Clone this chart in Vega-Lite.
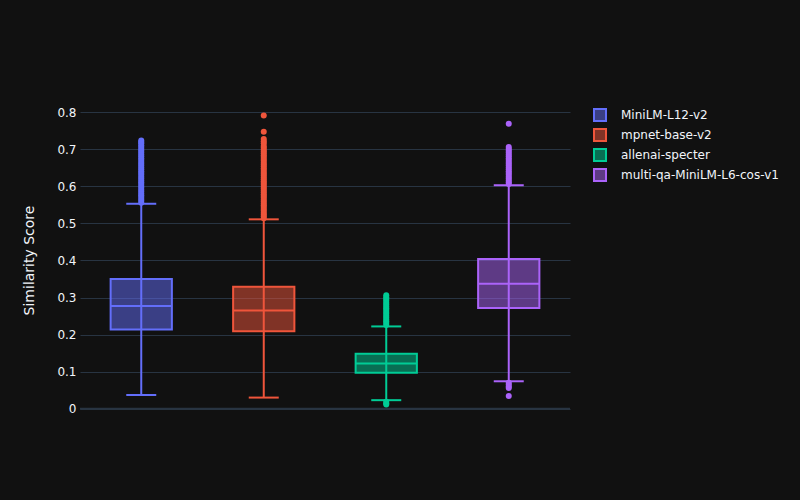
{
  "$schema": "https://vega.github.io/schema/vega-lite/v6.json",
  "width": 490,
  "height": 320,
  "autosize": {"type": "none"},
  "padding": {"left": 80, "top": 100, "right": 230, "bottom": 80},
  "background": "#111111",
  "config": {
    "view": {"stroke": null},
    "font": "DejaVu Sans",
    "axis": {"labelColor": "#f2f5fa", "titleColor": "#f2f5fa", "labelFontSize": 12}
  },
  "datasets": {
    "boxes": [
      {"model": "MiniLM-L12-v2", "lower": 0.037, "q1": 0.214, "median": 0.277, "q3": 0.350, "upper": 0.553},
      {"model": "mpnet-base-v2", "lower": 0.030, "q1": 0.209, "median": 0.265, "q3": 0.329, "upper": 0.511},
      {"model": "allenai-specter", "lower": 0.023, "q1": 0.097, "median": 0.122, "q3": 0.148, "upper": 0.222},
      {"model": "multi-qa-MiniLM-L6-cos-v1", "lower": 0.074, "q1": 0.272, "median": 0.337, "q3": 0.404, "upper": 0.603}
    ],
    "outliers": [
      {"model": "MiniLM-L12-v2", "score": 0.556}, {"model": "MiniLM-L12-v2", "score": 0.561}, {"model": "MiniLM-L12-v2", "score": 0.566},
      {"model": "MiniLM-L12-v2", "score": 0.571}, {"model": "MiniLM-L12-v2", "score": 0.576}, {"model": "MiniLM-L12-v2", "score": 0.581},
      {"model": "MiniLM-L12-v2", "score": 0.586}, {"model": "MiniLM-L12-v2", "score": 0.591}, {"model": "MiniLM-L12-v2", "score": 0.596},
      {"model": "MiniLM-L12-v2", "score": 0.601}, {"model": "MiniLM-L12-v2", "score": 0.606}, {"model": "MiniLM-L12-v2", "score": 0.611},
      {"model": "MiniLM-L12-v2", "score": 0.616}, {"model": "MiniLM-L12-v2", "score": 0.621}, {"model": "MiniLM-L12-v2", "score": 0.626},
      {"model": "MiniLM-L12-v2", "score": 0.631}, {"model": "MiniLM-L12-v2", "score": 0.636}, {"model": "MiniLM-L12-v2", "score": 0.641},
      {"model": "MiniLM-L12-v2", "score": 0.646}, {"model": "MiniLM-L12-v2", "score": 0.651}, {"model": "MiniLM-L12-v2", "score": 0.656},
      {"model": "MiniLM-L12-v2", "score": 0.661}, {"model": "MiniLM-L12-v2", "score": 0.666}, {"model": "MiniLM-L12-v2", "score": 0.671},
      {"model": "MiniLM-L12-v2", "score": 0.676}, {"model": "MiniLM-L12-v2", "score": 0.681}, {"model": "MiniLM-L12-v2", "score": 0.686},
      {"model": "MiniLM-L12-v2", "score": 0.691}, {"model": "MiniLM-L12-v2", "score": 0.696}, {"model": "MiniLM-L12-v2", "score": 0.701},
      {"model": "MiniLM-L12-v2", "score": 0.706}, {"model": "MiniLM-L12-v2", "score": 0.711}, {"model": "MiniLM-L12-v2", "score": 0.716},
      {"model": "MiniLM-L12-v2", "score": 0.720}, {"model": "MiniLM-L12-v2", "score": 0.724},
      {"model": "mpnet-base-v2", "score": 0.514}, {"model": "mpnet-base-v2", "score": 0.519}, {"model": "mpnet-base-v2", "score": 0.524},
      {"model": "mpnet-base-v2", "score": 0.529}, {"model": "mpnet-base-v2", "score": 0.534}, {"model": "mpnet-base-v2", "score": 0.539},
      {"model": "mpnet-base-v2", "score": 0.544}, {"model": "mpnet-base-v2", "score": 0.549}, {"model": "mpnet-base-v2", "score": 0.554},
      {"model": "mpnet-base-v2", "score": 0.559}, {"model": "mpnet-base-v2", "score": 0.564}, {"model": "mpnet-base-v2", "score": 0.569},
      {"model": "mpnet-base-v2", "score": 0.574}, {"model": "mpnet-base-v2", "score": 0.579}, {"model": "mpnet-base-v2", "score": 0.584},
      {"model": "mpnet-base-v2", "score": 0.589}, {"model": "mpnet-base-v2", "score": 0.594}, {"model": "mpnet-base-v2", "score": 0.599},
      {"model": "mpnet-base-v2", "score": 0.604}, {"model": "mpnet-base-v2", "score": 0.609}, {"model": "mpnet-base-v2", "score": 0.614},
      {"model": "mpnet-base-v2", "score": 0.619}, {"model": "mpnet-base-v2", "score": 0.624}, {"model": "mpnet-base-v2", "score": 0.629},
      {"model": "mpnet-base-v2", "score": 0.634}, {"model": "mpnet-base-v2", "score": 0.639}, {"model": "mpnet-base-v2", "score": 0.644},
      {"model": "mpnet-base-v2", "score": 0.649}, {"model": "mpnet-base-v2", "score": 0.654}, {"model": "mpnet-base-v2", "score": 0.659},
      {"model": "mpnet-base-v2", "score": 0.664}, {"model": "mpnet-base-v2", "score": 0.669}, {"model": "mpnet-base-v2", "score": 0.674},
      {"model": "mpnet-base-v2", "score": 0.679}, {"model": "mpnet-base-v2", "score": 0.684}, {"model": "mpnet-base-v2", "score": 0.689},
      {"model": "mpnet-base-v2", "score": 0.694}, {"model": "mpnet-base-v2", "score": 0.699}, {"model": "mpnet-base-v2", "score": 0.704},
      {"model": "mpnet-base-v2", "score": 0.709}, {"model": "mpnet-base-v2", "score": 0.716}, {"model": "mpnet-base-v2", "score": 0.722},
      {"model": "mpnet-base-v2", "score": 0.728}, {"model": "mpnet-base-v2", "score": 0.747}, {"model": "mpnet-base-v2", "score": 0.791},
      {"model": "allenai-specter", "score": 0.226}, {"model": "allenai-specter", "score": 0.231}, {"model": "allenai-specter", "score": 0.236},
      {"model": "allenai-specter", "score": 0.241}, {"model": "allenai-specter", "score": 0.246}, {"model": "allenai-specter", "score": 0.251},
      {"model": "allenai-specter", "score": 0.256}, {"model": "allenai-specter", "score": 0.261}, {"model": "allenai-specter", "score": 0.266},
      {"model": "allenai-specter", "score": 0.271}, {"model": "allenai-specter", "score": 0.276}, {"model": "allenai-specter", "score": 0.281},
      {"model": "allenai-specter", "score": 0.286}, {"model": "allenai-specter", "score": 0.291}, {"model": "allenai-specter", "score": 0.296},
      {"model": "allenai-specter", "score": 0.301}, {"model": "allenai-specter", "score": 0.306},
      {"model": "allenai-specter", "score": 0.019}, {"model": "allenai-specter", "score": 0.015}, {"model": "allenai-specter", "score": 0.011},
      {"model": "multi-qa-MiniLM-L6-cos-v1", "score": 0.606}, {"model": "multi-qa-MiniLM-L6-cos-v1", "score": 0.611}, {"model": "multi-qa-MiniLM-L6-cos-v1", "score": 0.616},
      {"model": "multi-qa-MiniLM-L6-cos-v1", "score": 0.621}, {"model": "multi-qa-MiniLM-L6-cos-v1", "score": 0.626}, {"model": "multi-qa-MiniLM-L6-cos-v1", "score": 0.631},
      {"model": "multi-qa-MiniLM-L6-cos-v1", "score": 0.636}, {"model": "multi-qa-MiniLM-L6-cos-v1", "score": 0.641}, {"model": "multi-qa-MiniLM-L6-cos-v1", "score": 0.646},
      {"model": "multi-qa-MiniLM-L6-cos-v1", "score": 0.651}, {"model": "multi-qa-MiniLM-L6-cos-v1", "score": 0.656}, {"model": "multi-qa-MiniLM-L6-cos-v1", "score": 0.661},
      {"model": "multi-qa-MiniLM-L6-cos-v1", "score": 0.666}, {"model": "multi-qa-MiniLM-L6-cos-v1", "score": 0.671}, {"model": "multi-qa-MiniLM-L6-cos-v1", "score": 0.676},
      {"model": "multi-qa-MiniLM-L6-cos-v1", "score": 0.681}, {"model": "multi-qa-MiniLM-L6-cos-v1", "score": 0.686}, {"model": "multi-qa-MiniLM-L6-cos-v1", "score": 0.691},
      {"model": "multi-qa-MiniLM-L6-cos-v1", "score": 0.696}, {"model": "multi-qa-MiniLM-L6-cos-v1", "score": 0.701}, {"model": "multi-qa-MiniLM-L6-cos-v1", "score": 0.706},
      {"model": "multi-qa-MiniLM-L6-cos-v1", "score": 0.769},
      {"model": "multi-qa-MiniLM-L6-cos-v1", "score": 0.070}, {"model": "multi-qa-MiniLM-L6-cos-v1", "score": 0.065}, {"model": "multi-qa-MiniLM-L6-cos-v1", "score": 0.060},
      {"model": "multi-qa-MiniLM-L6-cos-v1", "score": 0.056}, {"model": "multi-qa-MiniLM-L6-cos-v1", "score": 0.034}
    ]
  },
  "encoding": {
    "x": {
      "field": "model", "type": "nominal",
      "scale": {"domain": ["MiniLM-L12-v2", "mpnet-base-v2", "allenai-specter", "multi-qa-MiniLM-L6-cos-v1"], "paddingInner": 0, "paddingOuter": 0},
      "axis": null
    },
    "y": {
      "type": "quantitative",
      "scale": {"domain": [-0.0305, 0.833], "nice": false, "zero": false},
      "axis": {
        "title": "Similarity Score", "titleFontSize": 14, "titleFontWeight": "normal", "titlePadding": 20,
        "values": [0, 0.1, 0.2, 0.3, 0.4, 0.5, 0.6, 0.7, 0.8], "format": ".1~f",
        "grid": true, "gridColor": "#283442", "gridWidth": 1,
        "domain": false, "ticks": false, "labelPadding": 4
      }
    },
    "color": {
      "field": "model", "type": "nominal",
      "scale": {
        "domain": ["MiniLM-L12-v2", "mpnet-base-v2", "allenai-specter", "multi-qa-MiniLM-L6-cos-v1"],
        "range": ["#636efa", "#EF553B", "#00cc96", "#ab63fa"]
      },
      "legend": {
        "title": null, "orient": "none", "legendX": 513, "legendY": 8, "padding": 0,
        "symbolType": "square", "symbolSize": 144, "rowPadding": 0,
        "labelColor": "#f2f5fa", "labelFontSize": 12, "labelOffset": 14,
        "encode": {"symbols": {"update": {"fillOpacity": {"value": 0.5}, "stroke": {"scale": "color", "field": "value"}, "strokeWidth": {"value": 2}, "opacity": {"value": 1}}}}
      }
    }
  },
  "layer": [
    {
      "data": {"values": [{"zero": 0}]},
      "mark": {"type": "rule", "color": "#283442", "strokeWidth": 2},
      "encoding": {"x": null, "color": null, "y": {"field": "zero", "type": "quantitative"}}
    },
    {
      "data": {"name": "boxes"},
      "mark": {"type": "rule", "strokeWidth": 2},
      "encoding": {
        "y": {"field": "lower", "type": "quantitative"},
        "y2": {"field": "upper"}
      }
    },
    {
      "data": {"name": "boxes"},
      "mark": {"type": "bar", "width": {"band": 0.5}, "fillOpacity": 0.5},
      "encoding": {
        "y": {"field": "q1", "type": "quantitative"},
        "y2": {"field": "q3"}
      }
    },
    {
      "data": {"name": "boxes"},
      "mark": {"type": "bar", "width": {"band": 0.5}, "filled": false, "strokeWidth": 2},
      "encoding": {
        "y": {"field": "q1", "type": "quantitative"},
        "y2": {"field": "q3"}
      }
    },
    {
      "data": {"name": "boxes"},
      "mark": {"type": "tick", "size": 61, "thickness": 2, "opacity": 1},
      "encoding": {"y": {"field": "median", "type": "quantitative"}}
    },
    {
      "data": {"name": "boxes"},
      "mark": {"type": "tick", "size": 30, "thickness": 2, "opacity": 1},
      "encoding": {"y": {"field": "upper", "type": "quantitative"}}
    },
    {
      "data": {"name": "boxes"},
      "mark": {"type": "tick", "size": 30, "thickness": 2, "opacity": 1},
      "encoding": {"y": {"field": "lower", "type": "quantitative"}}
    },
    {
      "data": {"name": "outliers"},
      "mark": {"type": "circle", "size": 36, "opacity": 1},
      "encoding": {"y": {"field": "score", "type": "quantitative"}}
    }
  ]
}
